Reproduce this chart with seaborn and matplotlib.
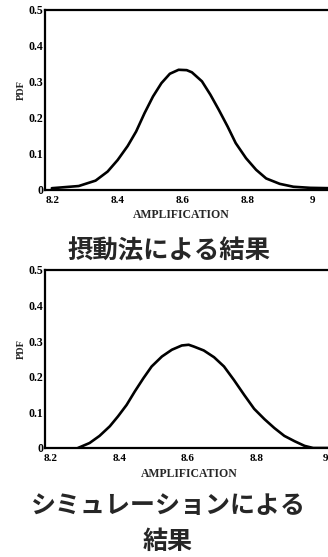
import matplotlib
matplotlib.use("Agg")
import matplotlib.pyplot as plt
import seaborn as sns
import pandas as pd

# --- data ---
pert_x = [8.196, 8.279, 8.331, 8.368, 8.399, 8.430, 8.456, 8.482, 8.508, 8.534, 8.560,
          8.587, 8.612, 8.628, 8.659, 8.685, 8.711, 8.738, 8.763, 8.795, 8.826, 8.857,
          8.899, 8.941, 8.993, 9.055]
pert_y = [0.005, 0.011, 0.026, 0.051, 0.083, 0.122, 0.162, 0.213, 0.259, 0.296, 0.322,
          0.333, 0.332, 0.326, 0.301, 0.264, 0.222, 0.176, 0.130, 0.088, 0.056, 0.032,
          0.017, 0.009, 0.006, 0.005]

sim_x = [8.279, 8.313, 8.342, 8.372, 8.396, 8.421, 8.445, 8.470, 8.494, 8.524, 8.553,
         8.582, 8.602, 8.617, 8.646, 8.676, 8.705, 8.734, 8.764, 8.793, 8.823, 8.852,
         8.881, 8.911, 8.940, 8.965, 9.009]
sim_y = [0.0, 0.014, 0.034, 0.061, 0.089, 0.121, 0.159, 0.196, 0.229, 0.257, 0.276,
         0.288, 0.290, 0.285, 0.274, 0.255, 0.229, 0.191, 0.149, 0.110, 0.081, 0.056,
         0.034, 0.019, 0.006, 0.0, 0.0]

x_ticks = [8.2, 8.4, 8.6, 8.8, 9.0]
x_tick_labels = ["8.2", "8.4", "8.6", "8.8", "9"]
y_ticks = [0, 0.1, 0.2, 0.3, 0.4, 0.5]
y_tick_labels = ["0", "0.1", "0.2", "0.3", "0.4", "0.5"]
x_label = "AMPLIFICATION"
y_label = "PDF"
title_top = "摂動法による結果"
title_bottom_1 = "シミュレーションによる"
title_bottom_2 = "結果"

sns.set_theme(style="white")
plt.rcParams['font.family'] = ['Liberation Serif', 'DejaVu Serif']

W, H = 328, 557
fig = plt.figure(figsize=(W / 100, H / 100), dpi=100)
fig.patch.set_facecolor("white")

def px_axes(left, top, right, bottom):
    return fig.add_axes([left / W, 1 - bottom / H, (right - left) / W, (bottom - top) / H])

ax1 = px_axes(45, 9.5, 332, 190)
ax2 = px_axes(45, 270, 332, 448)

panels = [
    (ax1, pert_x, pert_y, (8.175, 9.06), (0.474, -0.105), 0.554),
    (ax2, sim_x, sim_y, (8.183, 9.02), (0.502, -0.112), 0.556),
]

for ax, xs, ys, xlim, xl_pos, yl_y in panels:
    df = pd.DataFrame({"x": xs, "y": ys})
    sns.lineplot(data=df, x="x", y="y", ax=ax, color="black", linewidth=1.9,
                 sort=False, estimator=None)
    ax.set_xlim(*xlim)
    ax.set_ylim(0, 0.5)
    ax.set_xticks(x_ticks)
    ax.set_xticklabels(x_tick_labels, fontsize=8, fontweight="bold")
    ax.set_yticks(y_ticks)
    ax.set_yticklabels(y_tick_labels, fontsize=8.5, fontweight="bold")
    ax.tick_params(axis="both", direction="in", length=2, width=0.8, colors="black")
    ax.tick_params(axis="y", pad=1)
    ax.tick_params(axis="x", pad=4.5)
    for s in ["left", "bottom", "top"]:
        ax.spines[s].set_linewidth(1.6)
        ax.spines[s].set_color("black")
    ax.spines["right"].set_visible(False)
    ax.set_xlabel(x_label, fontsize=8.5, fontweight="bold")
    ax.xaxis.set_label_coords(*xl_pos)
    ax.set_ylabel(y_label, fontsize=7.5, fontweight="bold")
    ax.yaxis.set_label_coords(-0.065, yl_y)

cjk = ['Noto Sans CJK JP', 'DejaVu Sans']
fig.text(169 / W, 1 - 251 / H, title_top, ha="center", va="center", fontsize=18.3,
         family=cjk, fontweight="bold")
fig.text(168 / W, 1 - 506 / H, title_bottom_1, ha="center", va="center", fontsize=18,
         family=cjk, fontweight="bold")
fig.text(168 / W, 1 - 542 / H, title_bottom_2, ha="center", va="center", fontsize=18,
         family=cjk, fontweight="bold")

fig.savefig("out.png", dpi=100)
